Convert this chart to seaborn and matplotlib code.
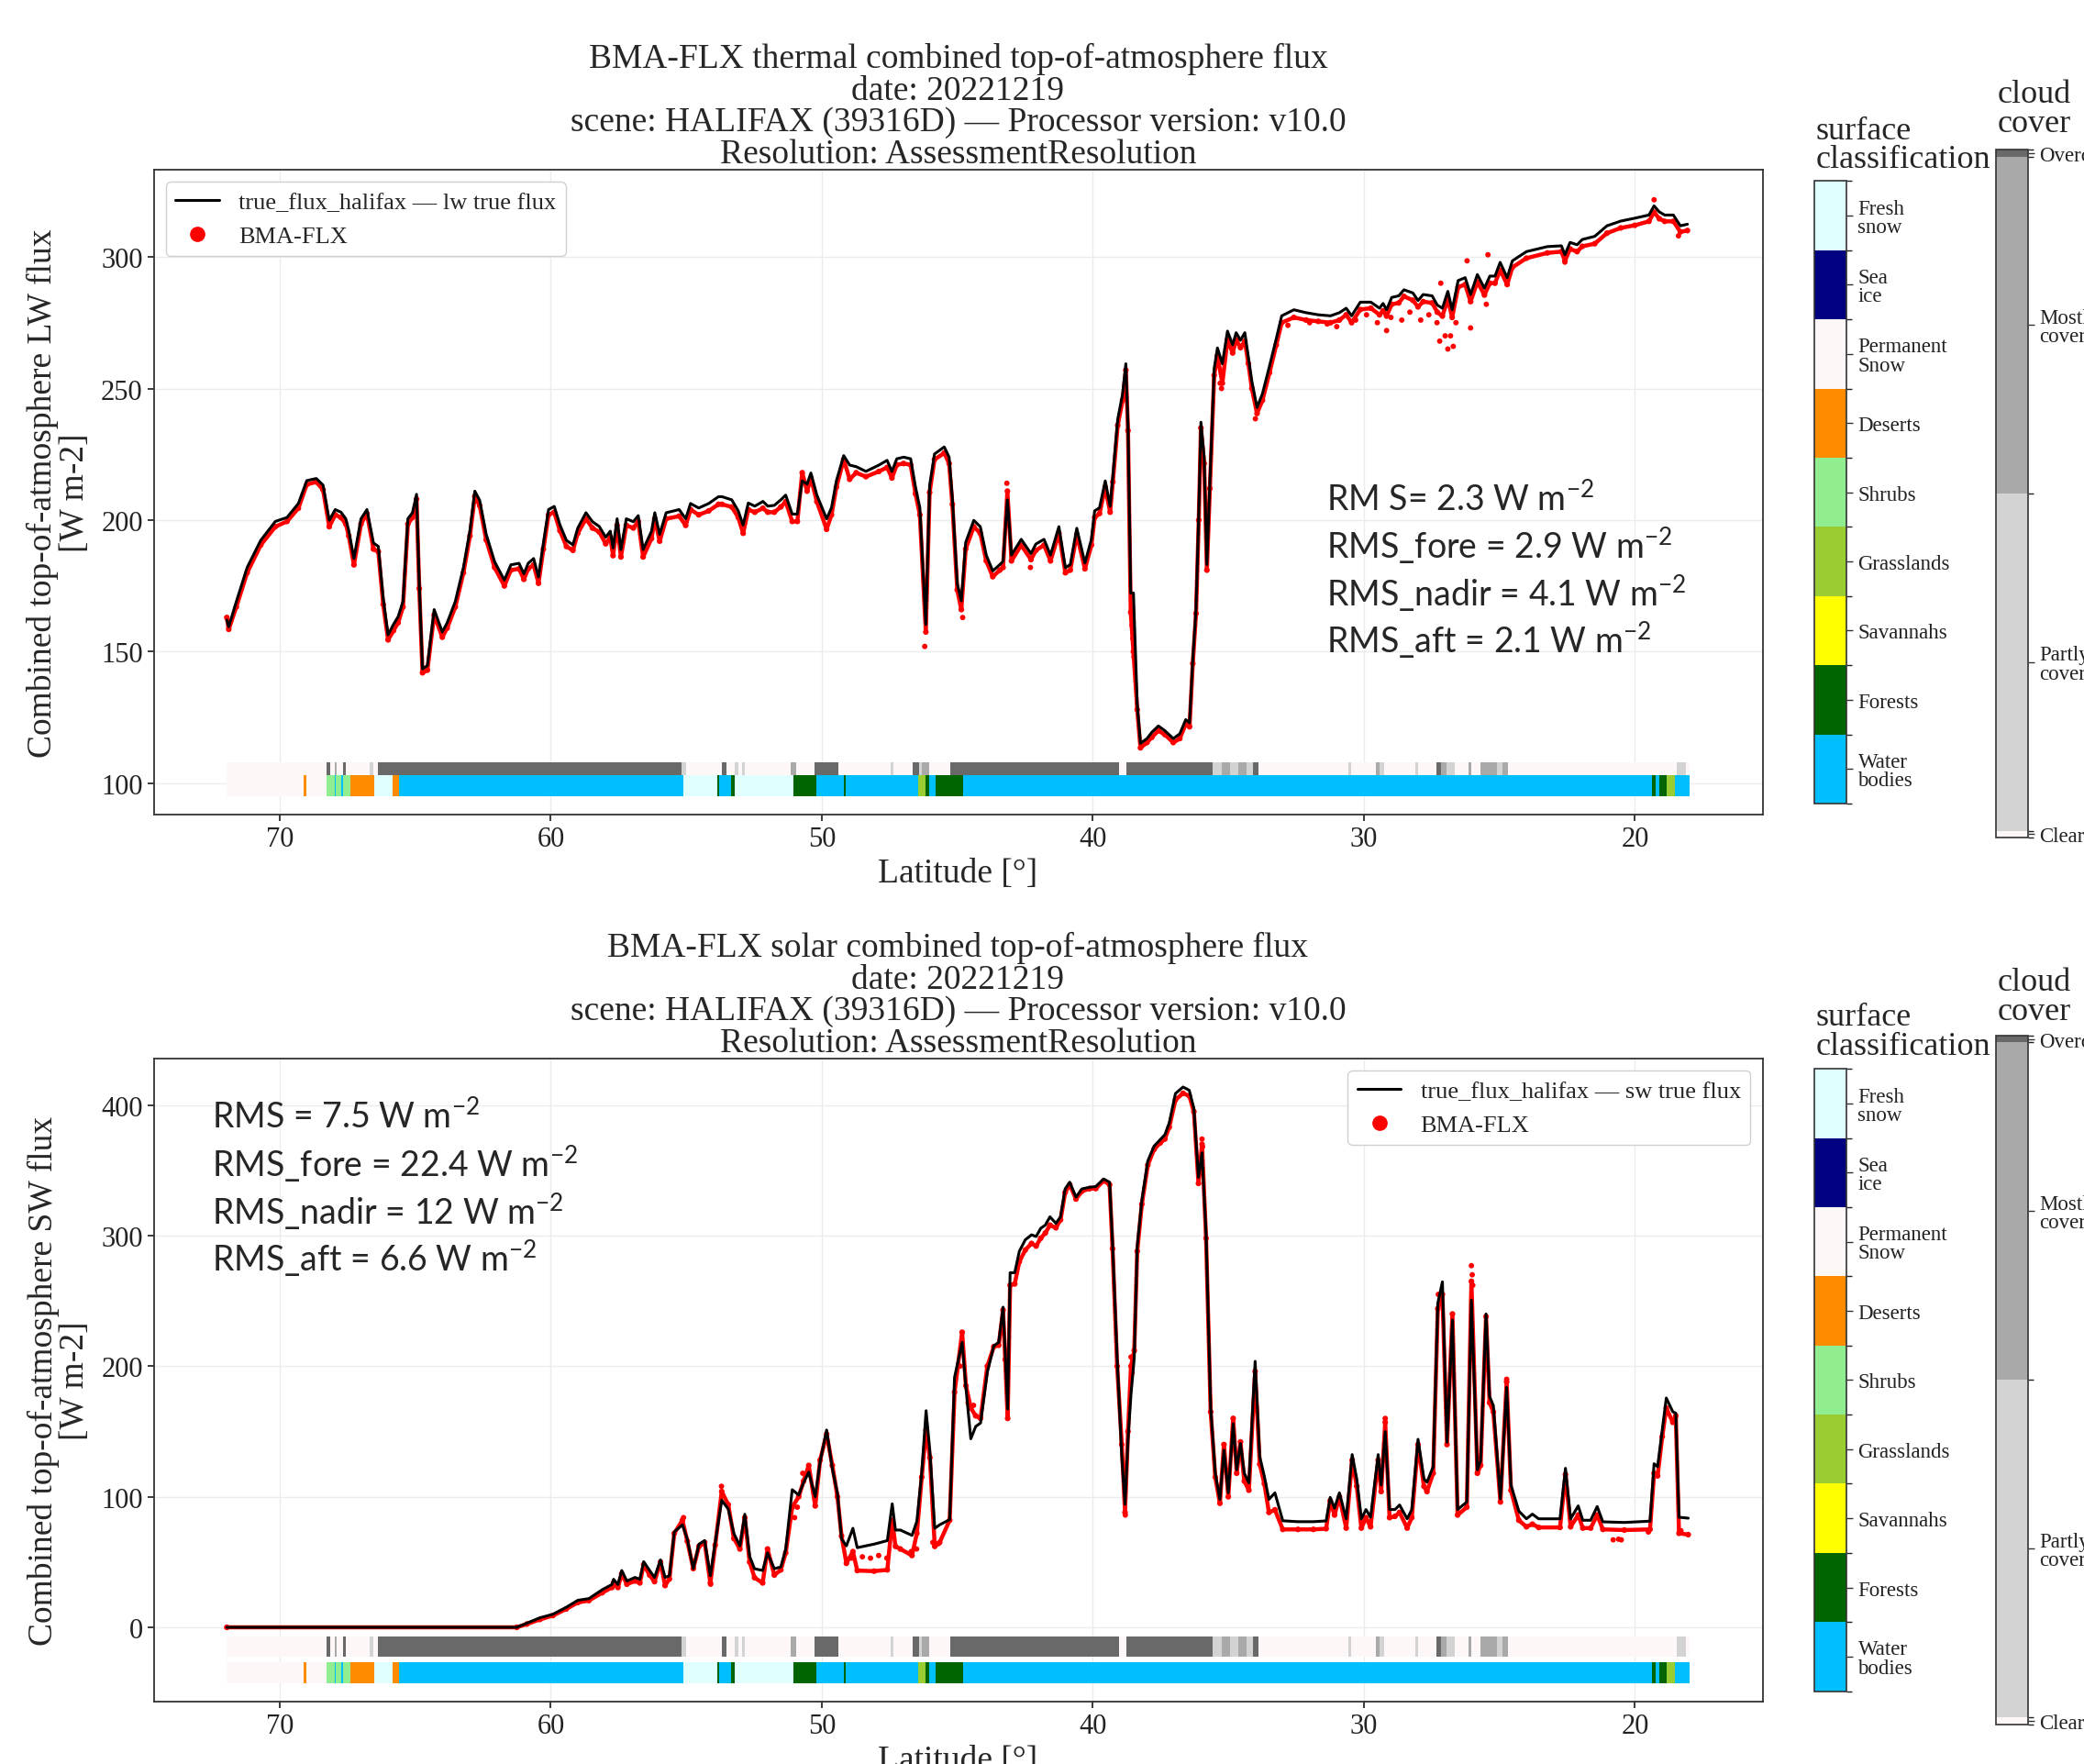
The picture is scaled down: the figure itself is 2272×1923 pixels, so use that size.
import numpy as np
import matplotlib
matplotlib.use("Agg")
import matplotlib.pyplot as plt
from matplotlib.colors import ListedColormap, BoundaryNorm
from matplotlib.cm import ScalarMappable
from matplotlib.lines import Line2D
import seaborn as sns

# ---------------- data ----------------
lw_lat = [71.95, 71.88, 71.6, 71.2, 70.7, 70.16, 69.73, 69.31, 69.0, 68.65,
          68.4, 68.17, 67.95, 67.74, 67.56, 67.45, 67.26, 67.0, 66.78, 66.54,
          66.36, 66.18, 66.0, 65.8, 65.63, 65.45, 65.27, 65.1, 64.95, 64.85,
          64.73, 64.55, 64.3, 64.0, 63.82, 63.52, 63.22, 62.98, 62.8, 62.62,
          62.38, 62.07, 61.71, 61.47, 61.17, 60.99, 60.83, 60.63, 60.45, 60.27,
          60.08, 59.87, 59.66, 59.42, 59.18, 59.0, 58.7, 58.46, 58.21, 57.97,
          57.8, 57.7, 57.55, 57.41, 57.21, 56.95, 56.77, 56.59, 56.28, 56.16,
          55.98, 55.74, 55.26, 55.02, 54.84, 54.54, 54.17, 53.81, 53.68, 53.32,
          53.08, 52.9, 52.71, 52.47, 52.17, 51.99, 51.75, 51.51, 51.33, 51.09,
          50.9, 50.72, 50.54, 50.4, 50.18, 49.82, 49.64, 49.46, 49.19, 48.97,
          48.73, 48.37, 47.89, 47.59, 47.41, 47.23, 46.98, 46.72, 46.54, 46.38,
          46.16, 46.02, 45.84, 45.48, 45.3, 45.18, 45.0, 44.85, 44.69, 44.39,
          44.15, 43.93, 43.69, 43.43, 43.31, 43.15, 43.0, 42.64, 42.28, 42.1,
          41.8, 41.56, 41.25, 41.01, 40.83, 40.59, 40.29, 40.05, 39.93, 39.75,
          39.54, 39.36, 39.26, 39.08, 38.9, 38.78, 38.7, 38.6, 38.5, 38.36,
          38.24, 38.0, 37.82, 37.58, 37.34, 37.03, 36.79, 36.57, 36.43, 36.31,
          36.19, 36.09, 36.01, 35.89, 35.79, 35.68, 35.52, 35.4, 35.22, 35.03,
          34.84, 34.71, 34.55, 34.39, 34.26, 34.13, 33.94, 33.74, 33.48, 33.23,
          33.03, 32.58, 32.13, 31.68, 31.23, 30.9, 30.65, 30.45, 30.13, 29.74,
          29.42, 29.29, 29.16, 28.97, 28.71, 28.52, 28.19, 28.0, 27.81, 27.48,
          27.29, 27.1, 26.9, 26.74, 26.52, 26.26, 26.06, 25.81, 25.55, 25.35,
          25.16, 24.97, 24.71, 24.52, 24.0, 23.23, 22.71, 22.58, 22.39, 22.13,
          21.94, 21.48, 21.03, 20.52, 20.0, 19.48, 19.29, 19.1, 18.9, 18.58,
          18.32, 18.06]
lw_true = [162, 159.5, 169, 182, 192.3, 199.5, 201, 206.3, 215, 215.8,
           213.3, 199.9, 204, 203, 200.5, 196, 185.4, 200.5, 204, 191.3,
           190, 170.3, 156.4, 160.4, 163.3, 169.1, 200.5, 202.8, 209.8, 176,
           143.5, 144.7, 166, 157.5, 161, 169.1, 182, 196, 211, 207.5,
           194.6, 184.2, 177.2, 183, 183.6, 179.6, 183.6, 185.4, 178.4, 191.3,
           204, 205.2, 198.2, 192.3, 190.6, 197, 202.8, 199.4, 197.6, 193.5,
           195.8, 189.4, 200.5, 188.8, 200.5, 199.4, 201.7, 188.8, 195.8, 202.8,
           194.6, 202.8, 204, 200.5, 206.3, 204.6, 206.3, 208.9, 208.9, 207.7,
           203.5, 198.1, 206.5, 205.3, 207.1, 205.3, 205.6, 207.7, 209.5, 202.3,
           202.3, 214.9, 213.7, 217.9, 209.5, 200.5, 204.7, 214.9, 224.5, 220.9,
           220.3, 218.5, 220.9, 222.7, 218.5, 223.3, 223.9, 223.3, 212.5, 204.7,
           160.3, 213.1, 225.1, 227.8, 223.9, 208.3, 175.9, 169.3, 191.5, 199.9,
           197.5, 186.7, 180.7, 183.1, 184.3, 207.7, 186.7, 192.7, 187.3, 190.9,
           192.7, 186.7, 197.5, 181.9, 183.1, 196.9, 183.7, 192.7, 203.5, 204.7,
           214.9, 205.3, 216.7, 238.3, 247.9, 259.4, 236, 172.3, 172.3, 130.2,
           115.2, 117, 119.4, 121.8, 120, 117, 118.8, 124.2, 123, 147,
           166.3, 202.3, 237.2, 223.9, 183.1, 214.3, 257.6, 265.4, 259.4, 271.8,
           266.6, 271.2, 268.3, 271.2, 262, 252.7, 242.8, 248, 258.5, 268.9,
           277.6, 279.9, 278.8, 278, 277.6, 278.8, 280.5, 277.6, 282.8, 282.8,
           280.5, 282.3, 279.9, 284.6, 285.2, 287.5, 286.3, 283.4, 285.7, 285.2,
           281.7, 280.5, 286.9, 279.9, 291, 292.1, 285.7, 293.3, 288.1, 292.7,
           292.7, 297.9, 292.1, 298.5, 302, 303.9, 304.2, 300.8, 305.5, 304.6,
           306.6, 307.8, 311.8, 313.6, 314.7, 315.9, 319.4, 317.1, 315.9, 315.9,
           311.8, 312.4]
lw_bma = [163, 158.5, 167, 180, 190.5, 197.5, 199.5, 204.5, 213.5, 214.5,
          211.5, 197.5, 202, 201, 198.5, 194, 183, 198.5, 202.5, 189,
          188, 168, 154.5, 158, 161, 167, 198.5, 201, 208, 174,
          142, 143, 164, 155.5, 159, 167, 180, 194, 209, 205.5,
          192.5, 182, 175, 181, 181.5, 177.5, 181.5, 183, 176, 189,
          202, 203, 196, 190, 188.5, 195, 200.5, 197, 195.5, 191,
          193.5, 186.5, 198, 186, 198, 197, 199.5, 186, 193, 200.5,
          192, 200.5, 201.5, 198, 204, 202, 203.5, 206, 206, 205,
          201, 195, 204, 203, 204.5, 203, 203, 205, 207, 199.5,
          199.5, 218, 211, 216, 207, 196.5, 202, 212.5, 223, 215.5,
          218, 216.5, 218.5, 220, 216, 221, 221.5, 221, 210, 202,
          157.5, 210.5, 223, 225.5, 221.5, 206, 173.5, 166, 189, 197.5,
          195, 184.5, 178.5, 181, 182, 211, 184.5, 190.5, 185, 188.5,
          190.5, 184.5, 195, 180, 181, 194.5, 181.5, 190.5, 201, 202.5,
          212.5, 203, 214.5, 236, 245.5, 257, 234, 165, 150, 128,
          113.5, 115.5, 117.5, 120, 118.5, 115.5, 117, 122.5, 121.5, 145.5,
          164.5, 200, 235, 221.5, 181, 212, 255, 262.5, 252, 268.5,
          263.5, 268.5, 265.5, 268, 259.5, 250, 240.5, 245.5, 256, 266.5,
          275, 277, 276, 275.5, 275, 276, 278, 275, 280, 280.5,
          278, 279.5, 277.5, 282, 282.5, 285, 283.5, 281, 283, 282.5,
          279, 277.5, 284, 277, 288.5, 289.5, 283, 290.5, 285.5, 290,
          290, 295, 289.5, 296, 299.5, 301.5, 302, 298.5, 303, 302,
          304, 305, 309, 311, 312, 313.5, 317, 314.5, 313.5, 313.5,
          309.5, 310]
lw_extra_lat = [46.2, 44.8, 43.17, 42.3, 38.55, 38.52, 38.48, 35.3, 35.25, 34.0,
                32.8, 32.0, 31.35, 31.0, 30.3, 29.9, 29.5, 29.16, 29.0, 28.6,
                28.3, 27.9, 27.6, 27.3, 27.2, 27.16, 27.0, 26.9, 26.8, 26.7,
                26.6, 26.19, 26.06, 25.48, 25.42, 22.58, 19.29, 18.39]
lw_extra_val = [152, 163, 214, 182, 160, 155, 148, 252, 250, 238.5,
                274, 275, 274.5, 273.5, 276, 278, 275, 272, 277, 276,
                279, 276, 278, 275, 268, 290, 270, 265, 270, 266,
                275, 298.5, 273, 282, 300.8, 298, 321.7, 308]

sw_lat = [71.95, 61.25, 60.88, 60.4, 59.92, 59.43, 59.0, 58.59, 58.1, 57.74,
          57.68, 57.52, 57.38, 57.19, 56.89, 56.71, 56.57, 56.35, 56.17, 55.95,
          55.78, 55.62, 55.44, 55.14, 54.96, 54.74, 54.53, 54.32, 54.11, 53.93,
          53.69, 53.45, 53.24, 53.02, 52.84, 52.66, 52.48, 52.18, 52.0, 51.75,
          51.51, 51.33, 51.09, 50.85, 50.67, 50.48, 50.24, 50.06, 49.82, 49.61,
          49.42, 49.27, 49.09, 48.85, 48.69, 48.07, 47.58, 47.4, 47.28, 47.1,
          46.67, 46.49, 46.31, 46.15, 46.01, 45.83, 45.65, 45.28, 45.1, 44.82,
          44.68, 44.5, 44.32, 44.14, 43.89, 43.65, 43.47, 43.31, 43.23, 43.14,
          43.05, 42.88, 42.71, 42.49, 42.26, 42.09, 41.92, 41.75, 41.58, 41.36,
          41.19, 41.02, 40.85, 40.62, 40.4, 40.11, 39.89, 39.6, 39.38, 39.27,
          39.1, 38.93, 38.81, 38.7, 38.59, 38.47, 38.36, 38.19, 37.97, 37.74,
          37.51, 37.34, 37.18, 36.95, 36.67, 36.44, 36.27, 36.1, 35.97, 35.82,
          35.65, 35.48, 35.31, 35.16, 35.0, 34.82, 34.69, 34.55, 34.41, 34.24,
          34.01, 33.84, 33.67, 33.5, 33.28, 32.99, 32.43, 31.86, 31.39, 31.24,
          31.08, 30.9, 30.65, 30.43, 30.26, 30.09, 29.92, 29.75, 29.47, 29.36,
          29.21, 29.05, 28.85, 28.68, 28.4, 28.23, 28.0, 27.78, 27.67, 27.44,
          27.27, 27.1, 26.93, 26.73, 26.54, 26.2, 26.03, 25.81, 25.69, 25.49,
          25.36, 25.22, 24.96, 24.73, 24.57, 24.28, 24.0, 23.78, 23.55, 22.76,
          22.56, 22.37, 22.09, 21.92, 21.63, 21.39, 21.18, 20.39, 19.44, 19.29,
          19.16, 18.99, 18.84, 18.6, 18.49, 18.37, 18.03]
sw_true = [0, 0, 3.2, 7.3, 10, 15.3, 20.7, 22, 28.8, 32.8,
           36.8, 32.8, 43.5, 35.5, 38.2, 36.8, 50.3, 43.5, 38.2, 51.6,
           38.2, 39.5, 73.1, 78.5, 67.7, 44.9, 63.7, 66.4, 39.5, 65,
           97.3, 90.6, 71.8, 62.4, 86.6, 54.3, 44.9, 43.5, 57, 44.9,
           46.2, 59.7, 105.4, 101.3, 110.8, 118.8, 100, 126.9, 151.1, 121.5,
           102.7, 67.7, 62.4, 75.8, 61, 63.7, 66.4, 94.6, 74.5, 74.5,
           70.4, 81.2, 118.8, 165.9, 134.9, 75.8, 78.5, 82.5, 191.4, 218.3,
           183.3, 144.4, 153.8, 156.5, 195.4, 215.6, 218.3, 245.2, 210.2, 167.2,
           271.6, 271.6, 288, 296.8, 300.6, 299.3, 305.6, 308.1, 314.4, 309.4,
           314.4, 335.8, 340.9, 329.5, 335.8, 337.1, 337.6, 343.4, 340.9, 294.3,
           206.2, 130.7, 94.2, 143.3, 178.5, 206.2, 291.8, 327, 357.2, 368.5,
           373.6, 377.3, 386.2, 408.8, 413.8, 411.3, 397.5, 344.6, 363.5, 301.8,
           168.4, 118.1, 98, 135.7, 103, 155.9, 120.6, 140.8, 118.1, 110.6,
           203.7, 130.7, 115.6, 98, 103, 81.6, 80.9, 80.9, 81.5, 99.5,
           91.3, 103, 83.1, 132.3, 113.6, 83.1, 90.2, 84.3, 132.3, 108.9,
           149.9, 90.2, 90.2, 93.7, 83.1, 90.2, 144, 113.6, 111.2, 123,
           248.2, 264.6, 141.7, 235.4, 90.2, 96, 250.6, 120.6, 127.6, 240,
           176.8, 169.8, 98.4, 183.8, 108.9, 89, 83.1, 86.7, 83.1, 83.1,
           121.8, 83.1, 93, 82, 82, 92.5, 80.8, 80.3, 81.3, 125.3,
           123, 151.1, 175.6, 165.1, 164, 84.3, 83.6]
sw_bma = [0, 0, 2.5, 6, 9, 14, 19, 20.5, 26.5, 30.5,
          34, 30.5, 41, 33, 35.5, 34, 48, 40, 35, 50,
          32, 37, 72, 82, 66, 45, 62, 65, 34, 63,
          104, 94, 68, 60, 84, 50, 38, 34, 60, 40,
          44, 57, 92, 100, 112, 124, 93, 128, 148, 124,
          100, 70, 49, 58, 43.5, 43, 44, 82, 62, 60,
          55, 72, 115, 151, 130, 62, 65, 82, 180, 226,
          185, 168, 162, 160, 200, 215, 216, 243, 205, 160,
          262, 263, 280, 289, 294, 292, 298, 302, 308, 306,
          312, 333, 339, 328, 334, 336, 336, 342, 339, 290,
          200, 140, 88, 150, 200, 212, 288, 324, 354, 366,
          371, 374, 383, 404, 409, 407, 395, 340, 370, 298,
          165, 115, 95, 140, 100, 160, 118, 142, 112, 105,
          196, 125, 110, 88, 90, 75, 75, 75, 75.5, 97,
          86, 100, 76, 128, 108, 76, 84, 77, 128, 104,
          157, 84, 85, 88, 76, 84, 140, 108, 104, 118,
          244, 255, 140, 240, 86, 92, 265, 118, 124, 238,
          172, 165, 96, 188, 105, 82, 77, 79, 76.5, 76.5,
          117, 77, 86, 76, 76, 86, 75, 74.5, 75, 118,
          116, 146, 168, 157, 162, 72, 71]
sw_extra_lat = [55.1, 54.1, 53.7, 51.0, 50.9, 50.7, 48.9, 48.5, 48.2, 47.9,
                47.6, 46.7, 46.5, 45.9, 45.7, 44.9, 44.6, 44.4, 38.8, 38.59,
                38.55, 35.97, 35.95, 29.21, 27.25, 26.03, 26.0, 25.98, 24.73, 20.8,
                20.6, 20.5, 19.5, 18.3]
sw_extra_val = [84, 33, 108, 84, 92, 118, 53, 54, 53, 55,
                53, 58, 60, 65, 64, 200, 172, 170, 86, 207,
                195, 374, 368, 160, 255, 277, 270, 262, 190, 67,
                67.5, 67, 73, 74]

# surface classification strip (latitude edges, class index)
surf_names = ["Fresh\nsnow", "Sea\nice", "Permanent\nSnow", "Deserts", "Shrubs",
              "Grasslands", "Savannahs", "Forests", "Water\nbodies"]
surf_colors = ["#e0ffff", "#000080", "#fdf7f7", "#ff8c00", "#90ee90",
               "#9acd32", "#ffff00", "#006400", "#00bfff"]
surf_edges = [71.97, 69.10, 69.00, 68.27, 67.98, 67.93, 67.72, 67.67, 67.39, 66.51,
              65.85, 65.61, 55.11, 53.87, 53.80, 53.35, 53.21, 51.03, 50.20, 49.20,
              49.11, 46.45, 46.17, 46.05, 45.81, 44.80, 19.36, 19.23, 19.09, 18.82,
              18.53, 17.99]
surf_class = [2, 3, 2, 4, 8, 4, 8, 4, 3, 0,
              3, 8, 0, 7, 8, 7, 0, 7, 8, 7,
              8, 5, 7, 8, 7, 8, 7, 8, 7, 5,
              8]

# cloud cover strip
cloud_names = ["Clear", "Partly\ncovered", "Mostly\ncovered", "Overcast"]
cloud_colors = ["#fdf7f7", "#d3d3d3", "#a9a9a9", "#696969"]
cloud_bounds = [0, 0.01, 0.5, 0.99, 1.0]
cloud_edges = [71.97, 68.27, 68.15, 67.98, 67.89, 67.65, 67.56, 66.68, 66.54, 66.37,
               55.18, 54.99, 53.68, 53.52, 53.21, 53.09, 52.95, 52.83, 51.15, 50.96,
               50.25, 49.37, 47.47, 47.35, 46.64, 46.40, 46.29, 46.05, 45.25, 39.03,
               38.76, 35.59, 35.24, 34.93, 34.62, 34.31, 34.10, 33.89, 30.58, 30.48,
               29.55, 29.42, 29.25, 28.10, 27.99, 27.31, 27.16, 26.96, 26.65, 26.13,
               26.03, 25.71, 25.09, 24.88, 24.68, 18.47, 18.12, 17.99]
cloud_class = [0, 3, 0, 2, 0, 3, 0, 1, 0, 3,
               1, 0, 3, 0, 1, 0, 1, 0, 2, 0,
               3, 0, 1, 0, 3, 1, 2, 0, 3, 0,
               3, 1, 2, 1, 2, 1, 3, 0, 1, 0,
               2, 1, 0, 1, 0, 3, 2, 1, 0, 2,
               0, 2, 1, 2, 0, 1, 0]

lat_ticks = [70, 60, 50, 40, 30, 20]
lw_yticks = [100, 150, 200, 250, 300]
sw_yticks = [0, 100, 200, 300, 400]

lw_rms = ["RM S= 2.3 W m$^{-2}$", "RMS_fore = 2.9 W m$^{-2}$",
          "RMS_nadir = 4.1 W m$^{-2}$", "RMS_aft = 2.1 W m$^{-2}$"]
sw_rms = ["RMS = 7.5 W m$^{-2}$", "RMS_fore = 22.4 W m$^{-2}$",
          "RMS_nadir = 12 W m$^{-2}$", "RMS_aft = 6.6 W m$^{-2}$"]

lw_title = ("BMA-FLX thermal combined top-of-atmosphere flux\ndate: 20221219\n"
            "scene: HALIFAX (39316D) \u2014 Processor version: v10.0\n"
            "Resolution: AssessmentResolution")
sw_title = ("BMA-FLX solar combined top-of-atmosphere flux\ndate: 20221219\n"
            "scene: HALIFAX (39316D) \u2014 Processor version: v10.0\n"
            "Resolution: AssessmentResolution")

# ---------------- style ----------------
sns.set_theme(style="whitegrid")
plt.rcParams["font.family"] = ["Liberation Serif", "DejaVu Serif"]
plt.rcParams.update({
    "axes.edgecolor": "#333333",
    "axes.linewidth": 1.3,
    "grid.color": "#ececec",
    "grid.linewidth": 1.0,
    "xtick.bottom": True,
    "ytick.left": True,
    "xtick.color": "#222222",
    "ytick.color": "#222222",
    "xtick.major.size": 5,
    "ytick.major.size": 5,
    "mathtext.fontset": "custom",
    "mathtext.rm": "Lato",
    "mathtext.default": "regular",
})

W, H = 2272, 1924
fig = plt.figure(figsize=(W / 100, H / 100), dpi=100)
ax_top = fig.add_axes([167.5 / W, 0.5379, 1754 / W, 0.3654])
ax_bot = fig.add_axes([167.5 / W, 0.0355, 1754 / W, 0.3642])

surf_cmap = ListedColormap(surf_colors)
surf_norm = BoundaryNorm(np.arange(-0.5, 9.5, 1), 9)
cloud_cmap = ListedColormap(cloud_colors)
cloud_strip_norm = BoundaryNorm([-0.5, 0.5, 1.5, 2.5, 3.5], 4)


def panel(ax, lat, true, bma, xlat, xval, cloud_y, surf_y, title, ylabel,
          line_label, legend_loc, ylim, yticks, rms, rms_x, rms_y):
    ax.pcolormesh(cloud_edges, cloud_y, [cloud_class], cmap=cloud_cmap,
                  norm=cloud_strip_norm, zorder=1)
    ax.pcolormesh(surf_edges, surf_y, [surf_class], cmap=surf_cmap,
                  norm=surf_norm, zorder=1)
    ax.plot(lat, bma, color="red", lw=3.2, zorder=2, solid_joinstyle="round")
    sns.scatterplot(x=lat, y=bma, color="red", s=20, edgecolor="none",
                    ax=ax, zorder=3, legend=False)
    sns.scatterplot(x=xlat, y=xval, color="red", s=18, edgecolor="none",
                    ax=ax, zorder=3, legend=False)
    sns.lineplot(x=lat, y=true, color="black", lw=2.2, ax=ax, sort=False,
                 estimator=None, zorder=4, legend=False)
    ax.set_xlim(74.65, 15.29)
    ax.set_ylim(*ylim)
    ax.set_xticks(lat_ticks)
    ax.set_yticks(yticks)
    ax.tick_params(labelsize=22)
    ax.set_xlabel("Latitude [\u00b0]", fontsize=27, labelpad=4)
    ax.set_ylabel(ylabel, fontsize=27, labelpad=8, linespacing=1.0)
    ax.set_title(title, fontsize=27, pad=6, linespacing=1.0)
    handles = [Line2D([], [], color="black", lw=2.2),
               Line2D([], [], color="red", marker="o", ls="none", markersize=11)]
    ax.legend(handles, [line_label, "BMA-FLX"], loc=legend_loc, fontsize=19,
              frameon=True, edgecolor="#d0d0d0", framealpha=1.0,
              handlelength=1.8)
    for txt, yy in zip(rms, rms_y):
        ax.text(rms_x, yy, txt, transform=ax.transAxes, fontsize=27,
                family="Lato", va="center", ha="left", zorder=6)


panel(ax_top, lw_lat, lw_true, lw_bma, lw_extra_lat, lw_extra_val,
      [103.1, 108.1], [95.1, 103.1], lw_title,
      "Combined top-of-atmosphere LW flux\n[W m-2]",
      "true_flux_halifax \u2014 lw true flux", "upper left",
      (88.1, 333.1), lw_yticks, lw_rms, 0.729, [0.490, 0.418, 0.345, 0.272])
panel(ax_bot, sw_lat, sw_true, sw_bma, sw_extra_lat, sw_extra_val,
      [-22.3, -7.0], [-42.6, -26.5], sw_title,
      "Combined top-of-atmosphere SW flux\n[W m-2]",
      "true_flux_halifax \u2014 sw true flux", "upper right",
      (-56.7, 435.6), sw_yticks, sw_rms, 0.0364, [0.911, 0.837, 0.764, 0.691])


def colorbars(surf_box, cloud_box, surf_title_y, cloud_title_y):
    cax = fig.add_axes(surf_box)
    cb = fig.colorbar(ScalarMappable(norm=surf_norm, cmap=surf_cmap), cax=cax,
                      ticks=range(9))
    cb.ax.set_yticklabels(surf_names, fontsize=16.5, linespacing=0.95)
    cb.ax.invert_yaxis()
    cb.outline.set_edgecolor("#333333")
    cb.outline.set_linewidth(1.2)
    cb.ax.tick_params(length=5, width=1, color="#333333", pad=4)
    fig.text(surf_box[0] + 0.0005, surf_title_y, "surface\nclassification",
             fontsize=26, ha="left", va="bottom", linespacing=0.95)

    cax2 = fig.add_axes(cloud_box)
    cnorm = BoundaryNorm(cloud_bounds, 4)
    cb2 = fig.colorbar(ScalarMappable(norm=cnorm, cmap=cloud_cmap), cax=cax2,
                       spacing="proportional",
                       ticks=[0.005, 0.255, 0.745, 0.995])
    cb2.ax.set_yticklabels(cloud_names, fontsize=16.5, linespacing=0.95)
    cb2.outline.set_edgecolor("#333333")
    cb2.outline.set_linewidth(1.2)
    cb2.ax.tick_params(length=5, width=1, color="#333333", pad=4)
    fig.text(cloud_box[0] + 0.0005, cloud_title_y, "cloud\ncover",
             fontsize=26, ha="left", va="bottom", linespacing=0.95)


colorbars([1978 / W, 0.5442, 35 / W, 0.3527], [2176 / W, 0.5249, 35 / W, 0.3898],
          0.9005, 0.921)
colorbars([1978 / W, 0.0413, 35 / W, 0.3525], [2176 / W, 0.0224, 35 / W, 0.3903],
          0.398, 0.418)

fig.savefig("out.png", dpi=100)
